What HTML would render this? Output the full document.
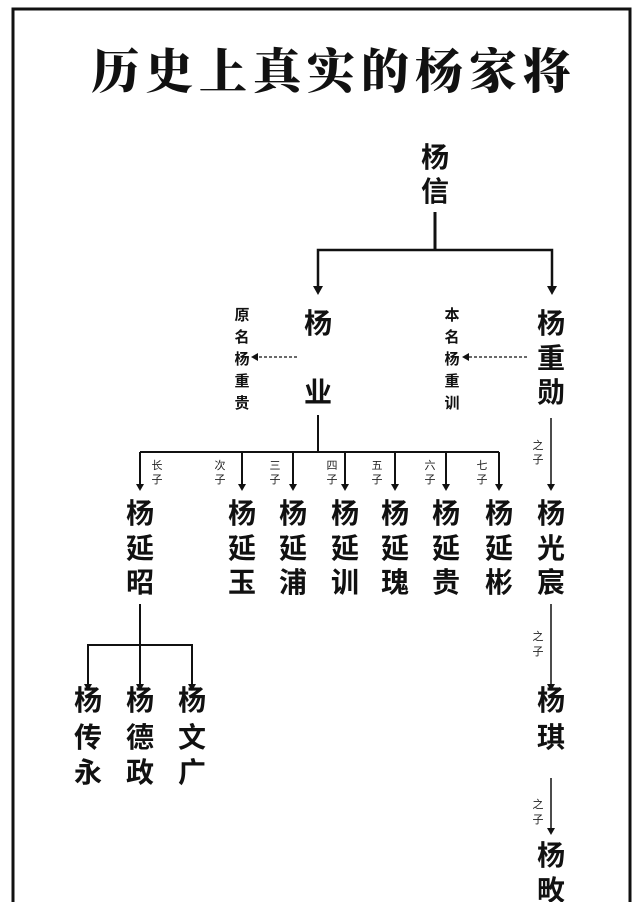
<!DOCTYPE html>
<html><head><meta charset="utf-8"><style>
html,body{margin:0;padding:0;background:#fff;}
svg{display:block;}
.n{font-family:"Liberation Sans","Noto Sans CJK SC",sans-serif;font-weight:bold;font-size:28px;text-anchor:middle;fill:#111;}
.a{font-family:"Liberation Sans","Noto Sans CJK SC",sans-serif;font-weight:bold;font-size:15px;text-anchor:middle;fill:#111;}
.s{font-family:"Liberation Sans","Noto Sans CJK SC",sans-serif;font-size:11px;text-anchor:middle;fill:#222;}
.t{font-family:"Liberation Serif","Noto Serif CJK SC",serif;font-weight:900;font-size:48px;text-anchor:middle;fill:#111;letter-spacing:6px;}
</style></head><body>
<svg width="640" height="902" viewBox="0 0 640 902" xmlns="http://www.w3.org/2000/svg">
<rect x="13" y="9" width="617" height="900" fill="none" stroke="#111" stroke-width="3"/>
<text class="t" x="334" y="88">历史上真实的杨家将</text>

<text class="n" x="435" y="167">杨</text>
<text class="n" x="435" y="201">信</text>
<g stroke="#111" fill="none">
<line x1="435" y1="212" x2="435" y2="250" stroke-width="3"/>
<polyline points="318,290 318,250 552,250 552,290" stroke-width="2.5"/>
</g>
<path d="M313,286 L323,286 L318,295 Z" fill="#111"/>
<path d="M547,286 L557,286 L552,295 Z" fill="#111"/>

<text class="n" x="318" y="333">杨</text>
<text class="n" x="318" y="402">业</text>
<text class="a" x="242" y="320">原</text><text class="a" x="242" y="342">名</text><text class="a" x="242" y="364">杨</text><text class="a" x="242" y="386">重</text><text class="a" x="242" y="408">贵</text>
<line x1="297" y1="357" x2="256" y2="357" stroke="#111" stroke-width="1.2" stroke-dasharray="3,2"/>
<path d="M251,357 L258,353 L258,361 Z" fill="#111"/>

<text class="n" x="551" y="333">杨</text>
<text class="n" x="551" y="368">重</text>
<text class="n" x="551" y="402">勋</text>
<text class="a" x="452" y="320">本</text><text class="a" x="452" y="342">名</text><text class="a" x="452" y="364">杨</text><text class="a" x="452" y="386">重</text><text class="a" x="452" y="408">训</text>
<line x1="527" y1="357" x2="467" y2="357" stroke="#111" stroke-width="1.2" stroke-dasharray="3,2"/>
<path d="M462,357 L469,353 L469,361 Z" fill="#111"/>

<g stroke="#111" stroke-width="2" fill="none">
<line x1="318" y1="415" x2="318" y2="452"/>
<line x1="140" y1="452" x2="499" y2="452"/>
<line x1="140" y1="452" x2="140" y2="486"/>
<line x1="242" y1="452" x2="242" y2="486"/>
<line x1="293" y1="452" x2="293" y2="486"/>
<line x1="345" y1="452" x2="345" y2="486"/>
<line x1="395" y1="452" x2="395" y2="486"/>
<line x1="446" y1="452" x2="446" y2="486"/>
<line x1="499" y1="452" x2="499" y2="486"/>
</g>
<g fill="#111">
<path d="M136,484 L144,484 L140,491 Z"/><path d="M238,484 L246,484 L242,491 Z"/><path d="M289,484 L297,484 L293,491 Z"/><path d="M341,484 L349,484 L345,491 Z"/><path d="M391,484 L399,484 L395,491 Z"/><path d="M442,484 L450,484 L446,491 Z"/><path d="M495,484 L503,484 L499,491 Z"/>
</g>
<text class="s" x="157" y="469">长</text><text class="s" x="157" y="483">子</text>
<text class="s" x="220" y="469">次</text><text class="s" x="220" y="483">子</text>
<text class="s" x="275" y="469">三</text><text class="s" x="275" y="483">子</text>
<text class="s" x="332" y="469">四</text><text class="s" x="332" y="483">子</text>
<text class="s" x="377" y="469">五</text><text class="s" x="377" y="483">子</text>
<text class="s" x="430" y="469">六</text><text class="s" x="430" y="483">子</text>
<text class="s" x="482" y="469">七</text><text class="s" x="482" y="483">子</text>

<text class="n" x="140" y="523">杨</text><text class="n" x="140" y="558">延</text><text class="n" x="140" y="592">昭</text>
<text class="n" x="242" y="523">杨</text><text class="n" x="242" y="558">延</text><text class="n" x="242" y="592">玉</text>
<text class="n" x="293" y="523">杨</text><text class="n" x="293" y="558">延</text><text class="n" x="293" y="592">浦</text>
<text class="n" x="345" y="523">杨</text><text class="n" x="345" y="558">延</text><text class="n" x="345" y="592">训</text>
<text class="n" x="395" y="523">杨</text><text class="n" x="395" y="558">延</text><text class="n" x="395" y="592">瑰</text>
<text class="n" x="446" y="523">杨</text><text class="n" x="446" y="558">延</text><text class="n" x="446" y="592">贵</text>
<text class="n" x="499" y="523">杨</text><text class="n" x="499" y="558">延</text><text class="n" x="499" y="592">彬</text>
<text class="n" x="551" y="523">杨</text><text class="n" x="551" y="558">光</text><text class="n" x="551" y="592">宸</text>

<line x1="551" y1="418" x2="551" y2="486" stroke="#111" stroke-width="1.5"/>
<path d="M547,484 L555,484 L551,491 Z" fill="#111"/>
<text class="s" x="538" y="449">之</text><text class="s" x="538" y="463">子</text>

<g stroke="#111" stroke-width="2" fill="none">
<line x1="140" y1="604" x2="140" y2="686"/>
<polyline points="88,686 88,645 192,645 192,686"/>
</g>
<path d="M84,684 L92,684 L88,691 Z" fill="#111"/><path d="M136,684 L144,684 L140,691 Z" fill="#111"/><path d="M188,684 L196,684 L192,691 Z" fill="#111"/>
<text class="n" x="88" y="710">杨</text><text class="n" x="88" y="747">传</text><text class="n" x="88" y="782">永</text>
<text class="n" x="140" y="710">杨</text><text class="n" x="140" y="747">德</text><text class="n" x="140" y="782">政</text>
<text class="n" x="192" y="710">杨</text><text class="n" x="192" y="747">文</text><text class="n" x="192" y="782">广</text>

<line x1="551" y1="604" x2="551" y2="686" stroke="#111" stroke-width="1.5"/>
<path d="M547,684 L555,684 L551,691 Z" fill="#111"/>
<text class="s" x="538" y="640">之</text><text class="s" x="538" y="655">子</text>
<text class="n" x="551" y="710">杨</text><text class="n" x="551" y="747">琪</text>
<line x1="551" y1="778" x2="551" y2="830" stroke="#111" stroke-width="1.5"/>
<path d="M547,828 L555,828 L551,835 Z" fill="#111"/>
<text class="s" x="538" y="808">之</text><text class="s" x="538" y="823">子</text>
<text class="n" x="551" y="865">杨</text><text class="n" x="551" y="900">畋</text>
</svg>
</body></html>
